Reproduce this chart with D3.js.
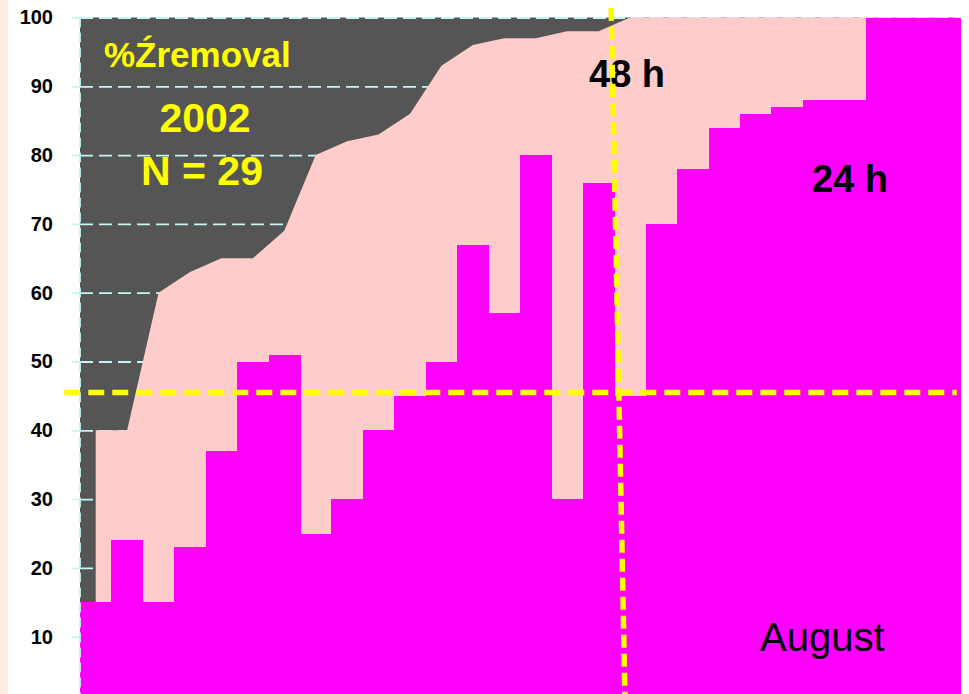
<!DOCTYPE html>
<html>
<head>
<meta charset="utf-8">
<script src="https://cdn.jsdelivr.net/npm/d3@7"></script>
<style>
  body { margin: 0; background: #ffffff; }
  svg { display: block; font-family: 'Liberation Sans', Arial, sans-serif; }
</style>
</head>
<body>
<div id="chart"></div>
<script>
// one column per sample, 28 columns across the plot
var removal24 = [15, 24, 15, 23, 37, 50, 51, 25, 30, 40, 45, 50, 67, 57,
                 80, 30, 76, 45, 70, 78, 84, 86, 87, 88, 88, 100, 100, 100];
var removal48 = [40, 40, 60, 63, 65, 65, 69, 80, 82, 83, 86, 93, 96, 97,
                 97, 98, 98, 100, 100, 100, 100, 100, 100, 100, 100, 100, 100, 100];
var yTicks = [10, 20, 30, 40, 50, 60, 70, 80, 90, 100];

// threshold lines (column units / percent)
var limitY = 45.5;
var limitX = [-0.5, 27.9];
var cut48X = [16.9, 17.35];
var cut48Y = [101.4, -1];

var W = 969, H = 694;

var x = d3.scaleLinear().domain([0, removal24.length]).range([80, 960]);
var y = d3.scaleLinear().domain([0, 100]).range([705.5, 17.5]);

var svg = d3.select('#chart')
    .append('svg')
    .attr('width', W)
    .attr('height', H);

//Cream strip at the left edge
svg.append('rect')
    .attr('x', 0).attr('y', 0)
    .attr('width', 8).attr('height', H)
    .style('fill', '#fdeee0');

//Plot background
svg.append('rect')
    .attr('x', x(0)).attr('y', y(100))
    .attr('width', x(removal24.length) - x(0))
    .attr('height', y(0) - y(100))
    .style('fill', '#555555');

//Gridlines
var grid = svg.append('g')
    .attr('transform', 'translate(' + x(0) + ',0)')
    .call(d3.axisLeft(y).tickValues(yTicks).tickSize(-(x(removal24.length) - x(0))).tickFormat(''));
grid.select('.domain').remove();
grid.selectAll('line')
    .style('stroke', '#c4f6f6')
    .style('stroke-width', 1.8)
    .style('stroke-dasharray', '13,6');

//Pink area (48 h)
var area = d3.area()
    .x(function(d, i){ return x(i + 0.5); })
    .y0(y(0))
    .y1(function(d){ return y(d); });

svg.append('path')
    .datum(removal48)
    .attr('d', area)
    .style('fill', '#ffcccc');

//Magenta bars (24 h)
svg.selectAll('.bar')
    .data(removal24)
    .enter()
    .append('rect')
    .attr('class', 'bar')
    .attr('x', function(d, i){ return x(i); })
    .attr('width', function(d, i){ return x(i + 1) - x(i) + 0.5; })
    .attr('y', function(d){ return y(d); })
    .attr('height', function(d){ return y(0) - y(d); })
    .attr('shape-rendering', 'crispEdges')
    .style('fill', '#ff00ff');

//Left axis
svg.append('line')
    .attr('x1', x(0)).attr('x2', x(0))
    .attr('y1', y(100)).attr('y2', H)
    .style('stroke', '#c4f6f6')
    .style('stroke-width', 1.8)
    .style('stroke-dasharray', '10,5');

var axis = svg.append('g')
    .attr('transform', 'translate(' + x(0) + ',0)')
    .call(d3.axisLeft(y).tickValues(yTicks).tickSize(8).tickPadding(19));
axis.select('.domain').remove();
axis.selectAll('line')
    .style('stroke', '#c4f6f6')
    .style('stroke-width', 1.8);
axis.selectAll('text')
    .style('font-family', "'Liberation Sans', Arial, sans-serif")
    .style('font-size', '20px')
    .style('font-weight', 700)
    .style('fill', '#000');

//Labels
svg.append('text')
    .attr('x', 104).attr('y', 67)
    .style('font-size', '35px').style('font-weight', 700)
    .style('fill', '#ffff00')
    .text('%Źremoval');

svg.append('text')
    .attr('x', 205).attr('y', 132)
    .attr('text-anchor', 'middle')
    .style('font-size', '41px').style('font-weight', 700)
    .style('fill', '#ffff00')
    .text('2002');

svg.append('text')
    .attr('x', 202).attr('y', 185)
    .attr('text-anchor', 'middle')
    .style('font-size', '41px').style('font-weight', 700)
    .style('fill', '#ffff00')
    .text('N = 29');

svg.append('text')
    .attr('x', 589).attr('y', 87)
    .style('font-size', '38px').style('font-weight', 700)
    .style('fill', '#000')
    .text('48 h');

svg.append('text')
    .attr('x', 812).attr('y', 192)
    .style('font-size', '38px').style('font-weight', 700)
    .style('fill', '#000')
    .text('24 h');

svg.append('text')
    .attr('x', 760).attr('y', 651)
    .style('font-size', '40px').style('font-weight', 400)
    .style('fill', '#000')
    .text('August');

//Yellow threshold lines
svg.append('line')
    .attr('x1', x(limitX[0])).attr('x2', x(limitX[1]))
    .attr('y1', y(limitY)).attr('y2', y(limitY))
    .style('stroke', '#ffff00')
    .style('stroke-width', 5.5)
    .style('stroke-dasharray', '16,8');

svg.append('line')
    .attr('x1', x(cut48X[0])).attr('x2', x(cut48X[1]))
    .attr('y1', y(cut48Y[0])).attr('y2', y(cut48Y[1]))
    .style('stroke', '#ffff00')
    .style('stroke-width', 5.5)
    .style('stroke-dasharray', '13,6');
</script>
</body>
</html>
